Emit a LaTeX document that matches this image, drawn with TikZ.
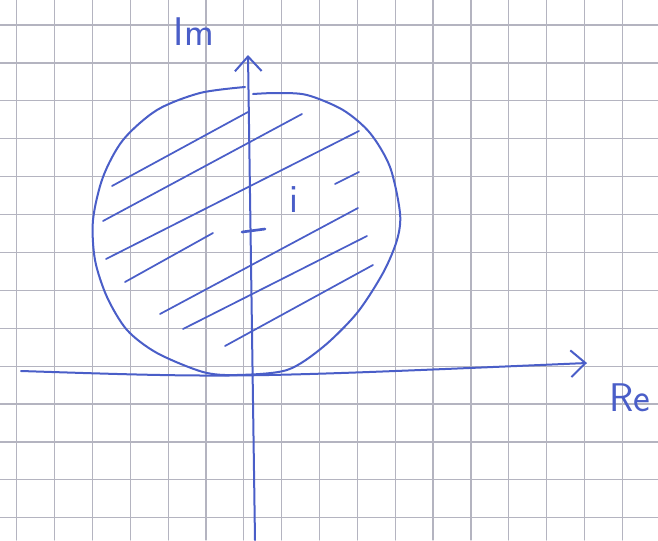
\documentclass[tikz,border=0pt]{standalone}
\usepackage{tikz}
\usetikzlibrary{arrows.meta}
\definecolor{pen}{HTML}{4A5EC8}
\definecolor{paper}{HTML}{B4B4C0}

\begin{document}
\begin{tikzpicture}[x=0.75pt, y=-0.75pt, line cap=round, line join=round,
  grid/.style={draw=paper, line width=0.9pt},
  ink/.style={draw=pen, line width=1.5pt},
  hatch/.style={draw=pen, line width=1.3pt},
  tip/.style={-{Straight Barb[length=11pt, width=20pt, line width=1.5pt]}},
  lbl/.style={text=pen, font=\sffamily\fontsize{30}{36}\selectfont, inner sep=0pt}]
  \useasboundingbox[fill=white] (0,0) rectangle (658,540);
  % squared paper
  \foreach \k in {0,...,16} \draw[grid] ({16.7+37.85*\k},0) -- ({16.7+37.85*\k},540);
  \foreach \k in {0,...,13} \draw[grid] (0,{25+37.9*\k}) -- (658,{25+37.9*\k});
  % disc around i
  \draw[ink] plot[smooth] coordinates {(245,87) (200,93) (157,110) (123,140) (103,177)
    (93,220) (95,260) (107,297) (127,330) (157,353) (203,372) (237,375) (287,370)
    (323,347) (357,313) (383,273) (397,240) (400,213) (390,167) (370,133) (343,110)
    (307,95) (277,93) (253,94)};
  \foreach \xa/\ya/\xb/\yb in {112/186/248/112, 103/221/302/114, 106/259/359/131,
    125/282/213/233, 335/184/359/172, 160/314/358/208, 183/329/367/236, 225/346/373/265}
    \draw[hatch] (\xa,\ya) -- (\xb,\yb);
  % axes
  \coordinate (west) at (21,371);
  \coordinate (east) at (587,363);
  \coordinate (south) at (255,540);
  \coordinate (north) at (248,55);
  \draw[ink, tip] (west) .. controls (236,378) .. (east);
  \draw[ink, tip] (south) -- (north);
  \draw[ink, line width=2pt] (242,232) -- (265,229);
  \node[lbl] (im) at (194,32) {Im};
  \node[lbl] (re) at (630,398) {Re};
  \node[lbl] (i) at (294,200) {i};
\end{tikzpicture}
\end{document}
